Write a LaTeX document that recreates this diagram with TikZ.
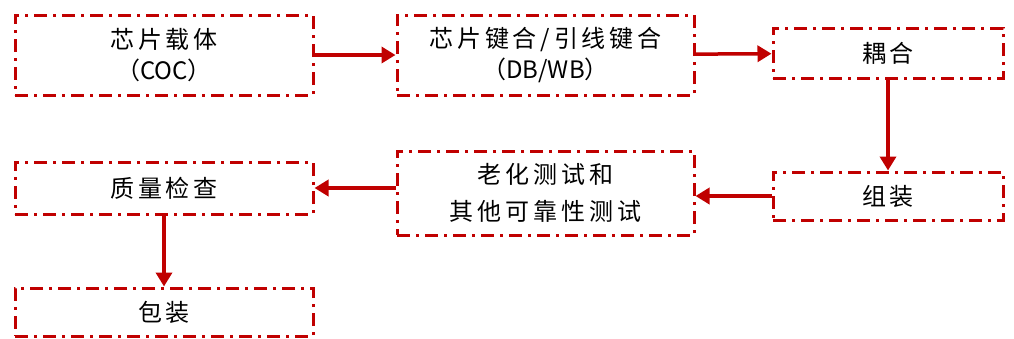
\documentclass[tikz,border=0pt]{standalone}
\usepackage{fontspec}
\setmainfont[LetterSpace=16]{Noto Sans CJK SC}
\newfontfamily\latinpart{Noto Sans CJK SC}
\usetikzlibrary{arrows.meta}
\definecolor{dred}{RGB}{192,0,0}
\tikzset{
  stepbox/.style={draw=dred, line width=3pt, dash pattern=on 13pt off 6pt on 3pt off 6pt,
    align=center, inner sep=0pt, font=\fontsize{24}{31}\selectfont},
  flow/.style={draw=dred, line width=3.5pt, -{Triangle[length=14pt,width=16pt]}}
}
\begin{document}
\begin{tikzpicture}[x=1pt,y=-1pt]
\useasboundingbox (0,0) rectangle (1014,338);
\node[stepbox, minimum width=298pt, minimum height=80pt] (b1) at (164,55) {芯片载体\\{\latinpart （COC）}};
\node[stepbox, minimum width=297pt, minimum height=80pt] (b2) at (545.5,55) {芯片键合/引线键合\\{\latinpart （DB/WB）}};
\node[stepbox, minimum width=230pt, minimum height=50pt] (b3) at (888,53) {耦合};
\node[stepbox, minimum width=230pt, minimum height=48pt] (b4) at (888,196) {组装};
\node[stepbox, minimum width=297pt, minimum height=84pt, font=\fontsize{24}{37}\selectfont] (b5) at (545.5,193) {老化测试和\\其他可靠性测试};
\node[stepbox, minimum width=298pt, minimum height=52pt] (b6) at (164,188) {质量检查};
\node[stepbox, minimum width=298pt, minimum height=48pt] (b7) at (164,312) {包装};
\draw[flow] (b1) -- (b2);
\draw[flow] (b2) -- (b3);
\draw[flow] (b3) -- (b4);
\draw[flow] (b4.west) -- (b4.west -| b5.east);
\draw[flow] (b5.west |- b6) -- (b6.east);
\draw[flow] (b6) -- (b7);
\end{tikzpicture}
\end{document}
